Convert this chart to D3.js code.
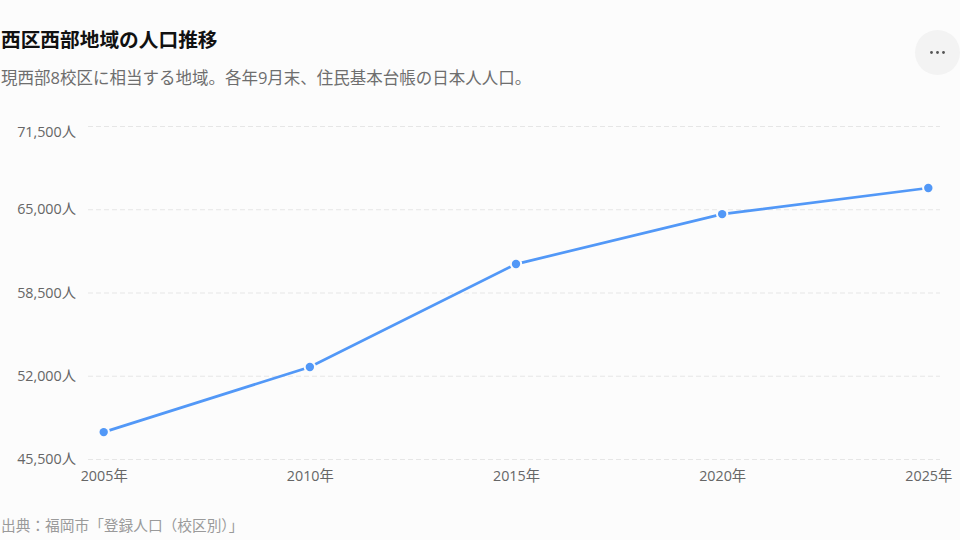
<!DOCTYPE html>
<html>
<head>
<meta charset="utf-8">
<script src="https://d3js.org/d3.v7.min.js"></script>
<style type="text/css">
  html, body { margin: 0; padding: 0; background: #fcfcfc; }
  svg text { font-family: "Open Sans", "Noto Sans CJK JP", sans-serif; }
  svg { display: block; }
  .grid line { stroke: #e6e6e6; stroke-width: 1; stroke-dasharray: 5 3; }
  .tick text { fill: #666; font-size: 14.3px; }
</style>
</head>
<body>
<svg id="chart" width="960" height="540"></svg>
<script>
const years = ['2005年', '2010年', '2015年', '2020年', '2025年'];
const population = [47600, 52680, 60720, 64620, 66660];
const yTicks = [45500, 52000, 58500, 65000, 71500];

const titleText = '西区西部地域の人口推移';
const subtitleText = '現西部8校区に相当する地域。各年9月末、住民基本台帳の日本人人口。';
const sourceText = '出典：福岡市「登録人口（校区別）」';

const chart = d3.select('#chart');

const x = d3.scalePoint().domain(years).range([103.7, 928.3]);
const y = d3.scaleLinear().domain([45500, 71500]).range([459, 126]);

// header
chart.append('text')
  .attr('x', 1).attr('y', 47)
  .attr('font-size', 19.7).attr('font-weight', 700).attr('fill', '#111')
  .text(titleText);

chart.append('text')
  .attr('x', 1).attr('y', 84)
  .attr('font-size', 16.5).attr('fill', '#6e6e6e')
  .text(subtitleText);

// menu button
chart.append('circle')
  .attr('cx', 937.5).attr('cy', 52.5).attr('r', 22.5)
  .attr('fill', '#f3f3f3');

chart.selectAll('.menu-dot')
  .data([-6, 0, 6])
  .join('circle')
  .attr('class', 'menu-dot')
  .attr('cx', d => 937.5 + d).attr('cy', 52.5).attr('r', 1.4)
  .attr('fill', '#555');

// grid + y labels
const yAxis = chart.append('g')
  .attr('class', 'grid')
  .attr('transform', 'translate(88 0)')
  .call(d3.axisLeft(y).tickValues(yTicks).tickSize(-852).tickPadding(12)
    .tickFormat(d => d3.format(',')(d) + '人'));
yAxis.select('.domain').remove();
yAxis.selectAll('.tick text').attr('dy', d => d === 71500 ? '0.75em' : '0.32em');

const xAxis = chart.append('g')
  .attr('transform', 'translate(0 459)')
  .call(d3.axisBottom(x).tickSize(0).tickPadding(12));
xAxis.select('.domain').remove();

// line
const line = d3.line()
  .x((d, i) => x(years[i]))
  .y(d => y(d));

chart.append('path')
  .datum(population)
  .attr('fill', 'none')
  .attr('stroke', '#5298f7')
  .attr('stroke-width', 2.7)
  .attr('d', line);

chart.selectAll('.dot')
  .data(population)
  .join('circle')
  .attr('class', 'dot')
  .attr('cx', (d, i) => x(years[i]))
  .attr('cy', d => y(d))
  .attr('r', 4.2)
  .attr('fill', '#5298f7')
  .attr('stroke', '#fcfcfc')
  .attr('stroke-width', 4)
  .style('paint-order', 'stroke');

chart.append('text')
  .attr('x', 1).attr('y', 531)
  .attr('font-size', 14.7).attr('fill', '#9a9a9a')
  .text(sourceText);
</script>
</body>
</html>
